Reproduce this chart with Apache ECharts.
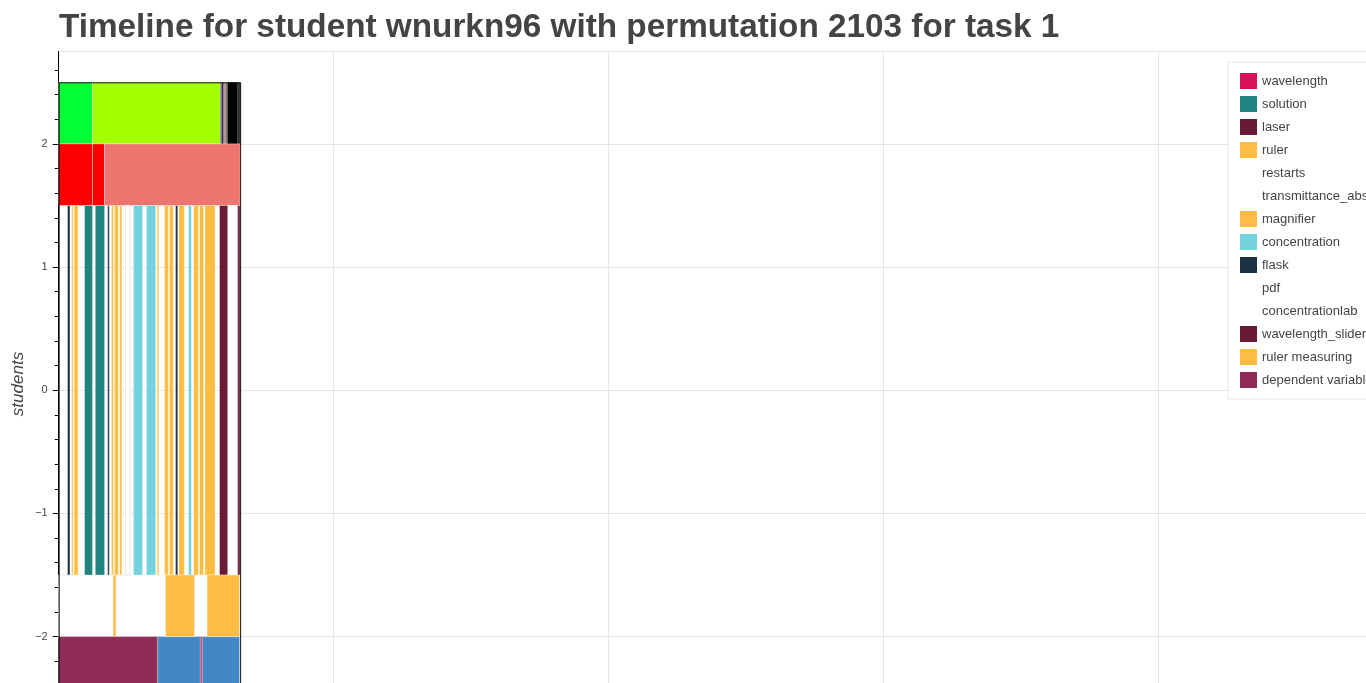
<!DOCTYPE html>
<html>
<head>
<meta charset="utf-8">
<script src="https://cdn.jsdelivr.net/npm/echarts@6/dist/echarts.min.js"></script>
<style>
  html, body { margin: 0; padding: 0; background: #fff; overflow: hidden; }
  #wrap { width: 1366px; height: 683px; overflow: hidden; position: relative; }
  #chart { width: 1450px; height: 780px; position: absolute; left: 0; top: 0; }
</style>
</head>
<body>
<div id="wrap"><div id="chart"></div></div>
<script>
// ---------- DATA (time in seconds, [start, end]) ----------
const titleText = 'Timeline for student wnurkn96 with permutation 2103 for task 1';
const yMajorTicks = [-2, -1, 0, 1, 2];
const yMinorTicks = [-2.6, -2.4, -2.2, -1.8, -1.6, -1.4, -1.2, -0.8, -0.6, -0.4, -0.2,
                     0.2, 0.4, 0.6, 0.8, 1.2, 1.4, 1.6, 1.8, 2.2, 2.4, 2.6];
const sessionEnd = 660;

// row bands [low, high]
const rowTop = [2.0, 2.5];
const rowSecond = [1.5, 2.0];
const rowActions = [-1.5, 1.5];
const rowMeasuring = [-2.0, -1.5];
const rowVariables = [-2.5, -2.0];

// legend categories (actions row unless noted)
const wavelength = [];
const solution = [[94, 123], [133, 167]];
const laser = [[585, 615]];
const ruler = [[47, 52], [56, 70], [192, 199], [203, 217], [222, 230]];
const restarts = [[243, 259]];
const transmittance_absorbance = [[617, 651]];
const magnifier = [[358, 364], [385, 399], [403, 417], [437, 457], [491, 508], [512, 527], [532, 569]];
const concentration = [[272, 305], [319, 353], [472, 483]];
const flask = [[32, 41], [178, 184], [425, 433]];
const pdf = [];
const concentrationlab = [];
const wavelength_slider = [[651, 660]];
const ruler_measuring = [[198, 208], [389, 494], [540, 658]];     // measuring row
const dependent_variable = [[0, 360]];                          // variables row

// other rows
const topGreen = [[0, 123]];
const topLime = [[123, 588]];
const topMauve = [[588, 593]];
const topDark = [[593, 598], [651, 661]];
const topViolet = [[598, 603]];
const topBrown = [[603, 607]];
const topGray = [[607, 614]];
const topBlack = [[614, 651]];
const secondRed = [[0, 123], [123, 167]];
const secondSalmon = [[167, 660]];
const measuringIdle = [[0, 198], [208, 389], [494, 540]];
const variableBlue = [[360, 515], [523, 658]];
const variablePink = [[515, 523]];

// ---------- BUILD ----------
function band(list, row) { return list.map(function (d) { return [d[0], d[1], row[0], row[1]]; }); }

function makeRender(stroke, width) {
  return function (params, api) {
    const p0 = api.coord([api.value(0), api.value(3)]);
    const p1 = api.coord([api.value(1), api.value(2)]);
    return {
      type: 'rect',
      shape: { x: p0[0], y: p0[1], width: p1[0] - p0[0], height: p1[1] - p0[1] },
      style: { fill: api.visual('color'), stroke: stroke, lineWidth: width }
    };
  };
}

const soft = 'rgba(255,255,255,0.35)';
const faint = '#ececec';
const defs = [
  { name: 'topGreen', data: band(topGreen, rowTop), color: '#00ff33', stroke: soft },
  { name: 'topLime', data: band(topLime, rowTop), color: '#a3ff00', stroke: soft },
  { name: 'topMauve', data: band(topMauve, rowTop), color: '#7d6b8c', stroke: null },
  { name: 'topDark', data: band(topDark, rowTop), color: '#333333', stroke: null },
  { name: 'topViolet', data: band(topViolet, rowTop), color: '#8d70a8', stroke: null },
  { name: 'topBrown', data: band(topBrown, rowTop), color: '#b07a48', stroke: null },
  { name: 'topGray', data: band(topGray, rowTop), color: '#7b7b7b', stroke: null },
  { name: 'topBlack', data: band(topBlack, rowTop), color: '#030303', stroke: null },
  { name: 'secondRed', data: band(secondRed, rowSecond), color: '#ff0000', stroke: soft },
  { name: 'secondSalmon', data: band(secondSalmon, rowSecond), color: '#ee7470', stroke: soft },
  { name: 'measuringIdle', data: band(measuringIdle, rowMeasuring), color: '#ffffff', stroke: '#f3f3f3' },
  { name: 'variableBlue', data: band(variableBlue, rowVariables), color: '#4287c6', stroke: soft },
  { name: 'variablePink', data: band(variablePink, rowVariables), color: '#b8587e', stroke: null },

  { name: 'wavelength', data: band(wavelength, rowActions), color: '#d81159', stroke: soft },
  { name: 'solution', data: band(solution, rowActions), color: '#218380', stroke: soft },
  { name: 'laser', data: band(laser, rowActions), color: '#6a1b34', stroke: soft },
  { name: 'ruler', data: band(ruler, rowActions), color: '#ffbc42', stroke: soft },
  { name: 'restarts', data: band(restarts, rowActions), color: '#ffffff', stroke: faint, hidden: true },
  { name: 'transmittance_absorbance', data: band(transmittance_absorbance, rowActions), color: '#ffffff', stroke: faint, hidden: true },
  { name: 'magnifier', data: band(magnifier, rowActions), color: '#ffbc42', stroke: soft },
  { name: 'concentration', data: band(concentration, rowActions), color: '#73d2de', stroke: soft },
  { name: 'flask', data: band(flask, rowActions), color: '#1c3144', stroke: soft },
  { name: 'pdf', data: band(pdf, rowActions), color: '#ffffff', stroke: faint, hidden: true },
  { name: 'concentrationlab', data: band(concentrationlab, rowActions), color: '#ffffff', stroke: faint, hidden: true },
  { name: 'wavelength_slider', data: band(wavelength_slider, rowActions), color: '#6a1b34', stroke: soft },
  { name: 'ruler measuring', data: band(ruler_measuring, rowMeasuring), color: '#ffbc42', stroke: soft },
  { name: 'dependent variable', data: band(dependent_variable, rowVariables), color: '#8f2d56', stroke: soft }
];

const legendNames = ['wavelength', 'solution', 'laser', 'ruler', 'restarts', 'transmittance_absorbance',
  'magnifier', 'concentration', 'flask', 'pdf', 'concentrationlab', 'wavelength_slider',
  'ruler measuring', 'dependent variable'];

const series = defs.map(function (d) {
  return {
    type: 'custom', name: d.name, data: d.data,
    encode: { x: [0, 1], y: [2, 3] },
    itemStyle: { color: d.color },
    renderItem: makeRender(d.stroke || 'none', d.stroke ? 1 : 0),
    xAxisIndex: 0, yAxisIndex: 0, silent: true
  };
});
// session outline
series.push({
  type: 'custom', name: 'session', data: [[0, sessionEnd, -2.75, rowTop[1]]],
  encode: { x: [0, 1], y: [2, 3] },
  renderItem: function (params, api) {
    const p0 = api.coord([api.value(0), api.value(3)]);
    const p1 = api.coord([api.value(1), api.value(2)]);
    return { type: 'rect', shape: { x: p0[0] + 0.5, y: p0[1] + 0.5, width: p1[0] - p0[0], height: p1[1] - p0[1] },
      style: { fill: 'none', stroke: '#111', lineWidth: 1 } };
  },
  silent: true, z: 3
});

const legendData = legendNames.map(function (n) {
  const d = defs.find(function (x) { return x.name === n; });
  return d.hidden ? { name: n, itemStyle: { color: 'rgba(0,0,0,0)', borderWidth: 0 } } : { name: n };
});

const FONT = '"Liberation Sans", Arial, Helvetica, sans-serif';
const chart = echarts.init(document.getElementById('chart'), null, { renderer: 'canvas' });
chart.setOption({
  animation: false,
  backgroundColor: '#ffffff',
  title: {
    text: titleText, left: 54, top: 6,
    textStyle: { fontSize: 33.3, fontWeight: 'bold', color: '#444444', fontFamily: FONT }
  },
  grid: { left: 58.7, top: 51.5, width: 1376.5, height: 677.5, show: true, borderColor: '#e5e5e5', borderWidth: 1, backgroundColor: 'transparent' },
  xAxis: {
    type: 'value', min: 0, max: 5000, interval: 1000, position: 'bottom',
    axisLine: { show: true, onZero: false, lineStyle: { color: '#000' } },
    axisTick: { show: true, length: 6, lineStyle: { color: '#000' } },
    axisLabel: { color: '#444', fontSize: 11, fontFamily: FONT },
    splitLine: { show: true, lineStyle: { color: '#e5e5e5', width: 1 } }
  },
  yAxis: [
    {
      type: 'value', min: -2.75, max: 2.75, position: 'left',
      axisLine: { show: true, onZero: false, lineStyle: { color: '#000', width: 1 } },
      axisTick: { show: true, length: 6, customValues: yMajorTicks, lineStyle: { color: '#000' } },
      axisLabel: {
        show: true, customValues: yMajorTicks, margin: 11, fontSize: 11, color: '#444', fontFamily: FONT,
        formatter: function (v) { return String(v).replace('-', '\u2212'); }
      },
      splitLine: { show: true, lineStyle: { color: '#e5e5e5', width: 1 } }
    },
    {
      type: 'value', min: -2.75, max: 2.75, position: 'left', offset: 0,
      axisLine: { show: false, onZero: false },
      axisTick: { show: true, length: 4, customValues: yMinorTicks, lineStyle: { color: '#000' } },
      axisLabel: { show: false },
      splitLine: { show: false }
    }
  ],
  legend: {
    orient: 'vertical', left: 1228, top: 62, icon: 'rect',
    itemWidth: 17, itemHeight: 16, itemGap: 7,
    padding: [11, 12, 11, 12],
    backgroundColor: '#ffffff', borderColor: '#e5e5e5', borderWidth: 1,
    textStyle: { fontSize: 13, color: '#444', fontFamily: FONT },
    selectedMode: false,
    data: legendData
  },
  graphic: [{
    type: 'text', x: 18, y: 384, rotation: Math.PI / 2,
    style: { text: 'students', font: 'italic 17px ' + FONT, fill: '#444', align: 'center', verticalAlign: 'middle' }
  }],
  series: series
});
</script>
</body>
</html>
